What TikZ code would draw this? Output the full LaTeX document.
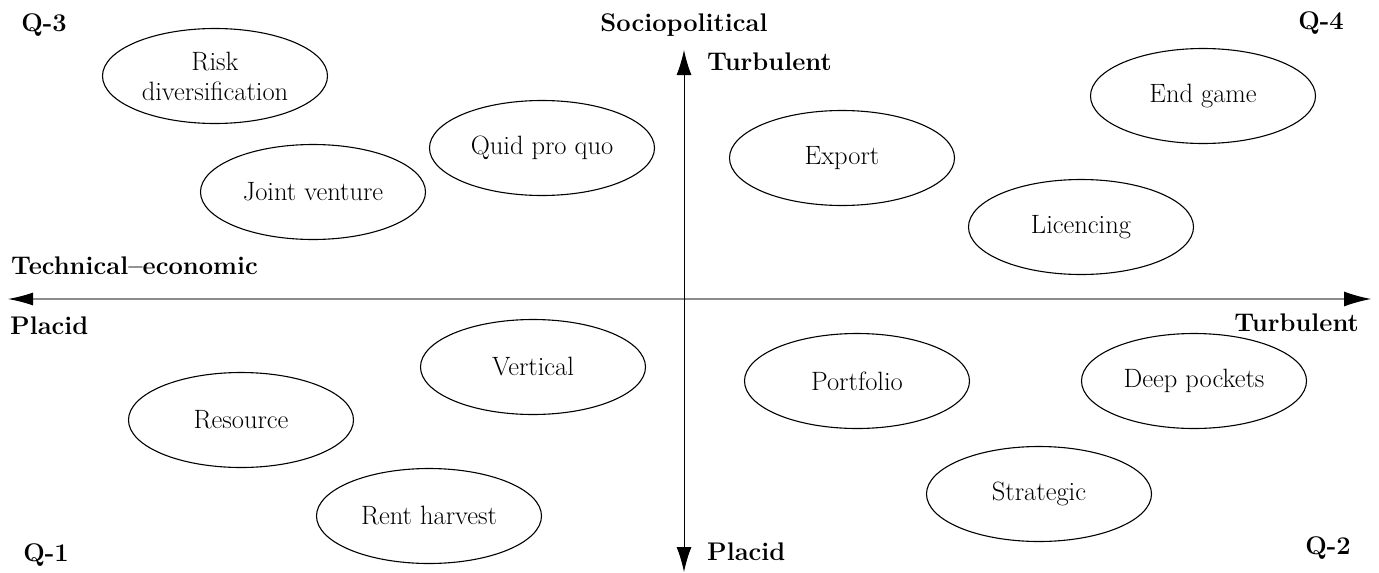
\documentclass[tikz,border=0pt]{standalone}
\usetikzlibrary{arrows.meta,shapes.geometric}
\begin{document}
\begin{tikzpicture}[x=1pt,y=-1pt,
  option/.style={ellipse,draw,line width=1.1pt,minimum width=225pt,minimum height=95pt,
    inner sep=0pt,align=center,font=\fontsize{26.5}{30}\selectfont},
  axislabel/.style={inner sep=0pt,font=\fontsize{25.5}{30}\selectfont\bfseries}]
\useasboundingbox (0,0) rectangle (1379,573);

% axes end points
\coordinate (hl) at (8,299);
\coordinate (hr) at (1371,299);
\coordinate (vt) at (684,50);
\coordinate (vb) at (684,572);

\draw[line width=1.1pt,black!45,{Latex[length=25pt,width=13pt,color=black]}-{Latex[length=27pt,width=15pt,color=black]}] (hl) -- (hr);
\draw[line width=1pt,{Latex[length=25pt,width=15pt]}-{Latex[length=25pt,width=15pt]}] (vt) -- (vb);

% axis and quadrant labels
\node[axislabel] (soc) at (684,25) {Sociopolitical};
\node[axislabel,anchor=west] (vturb) at (707,62) {Turbulent};
\node[axislabel,anchor=west] (vplac) at (707,552) {Placid};
\node[axislabel,anchor=west] (tech) at (11,266) {Technical--economic};
\node[axislabel,anchor=west] (hplac) at (10,326) {Placid};
\node[axislabel,anchor=east] (hturb) at (1359,323) {Turbulent};
\node[axislabel] (q3) at (44,25) {Q-3};
\node[axislabel] (q4) at (1321,23) {Q-4};
\node[axislabel] (q1) at (46,555) {Q-1};
\node[axislabel] (q2) at (1328,548) {Q-2};

% strategy options
\node[option] (risk) at (215,76) {Risk\\diversification};
\node[option] (quid) at (542,148) {Quid pro quo};
\node[option] (joint) at (313,192) {Joint venture};
\node[option] (export) at (842,158) {Export};
\node[option] (endgame) at (1203,96) {End game};
\node[option] (lic) at (1081,227) {Licencing};
\node[option] (vert) at (533,367) {Vertical};
\node[option] (res) at (241,420) {Resource};
\node[option] (rent) at (429,516) {Rent harvest};
\node[option] (port) at (857,381) {Portfolio};
\node[option] (deep) at (1194,381) {Deep pockets};
\node[option] (strat) at (1039,494) {Strategic};
\end{tikzpicture}
\end{document}
